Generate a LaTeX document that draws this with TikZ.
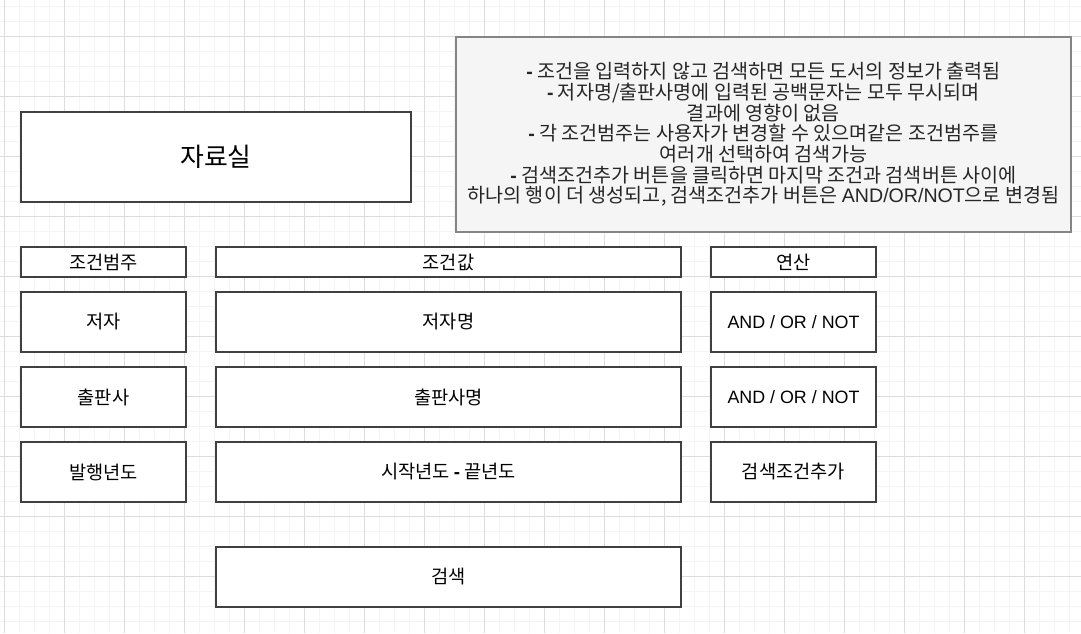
\documentclass[tikz,border=0pt]{standalone}
\usepackage{fontspec}
\setmainfont{Noto Sans CJK KR}
\newfontfamily\latinfont{Liberation Sans}
\definecolor{boxline}{HTML}{404040}
\definecolor{noteline}{HTML}{858585}
\definecolor{notefill}{HTML}{F5F5F5}
\definecolor{gridminor}{HTML}{F4F4F4}
\definecolor{gridmajor}{HTML}{DCDCDC}
\tikzset{
  box/.style={draw=boxline, line width=1.5pt, fill=white, inner sep=0pt, text=black,
    font=\fontsize{14}{16}\selectfont},
  colA/.style={minimum width=123.75pt},
  colB/.style={minimum width=348.75pt},
  headrow/.style={minimum height=22.5pt},
  bodyrow/.style={minimum height=45pt},
  optext/.style={font=\latinfont\fontsize{13.4}{15}\selectfont},
  notebox/.style={draw=noteline, line width=1.5pt, fill=notefill, inner sep=0pt,
    minimum width=461.25pt, minimum height=146.25pt, align=center, text=black!85,
    font=\fontsize{14.7}{15.5}\selectfont}
}
\begin{document}
\begin{tikzpicture}[x=0.75pt,y=-0.75pt]
\useasboundingbox (0,0) rectangle (1081,633);
\fill[white] (0,0) rectangle (1081,633);
% grid
\foreach \i in {0,...,71} \draw[gridminor, line width=0.75pt] (4+15*\i,0) -- (4+15*\i,633);
\foreach \j in {0,...,42} \draw[gridminor, line width=0.75pt] (0,6+15*\j) -- (1081,6+15*\j);
\foreach \i in {0,...,17} \draw[gridmajor, line width=0.75pt] (4+60*\i,0) -- (4+60*\i,633);
\foreach \j in {-1,...,10} \draw[gridmajor, line width=0.75pt] (0,36+60*\j) -- (1081,36+60*\j);

% title
\node[box, minimum width=292.5pt, minimum height=67.5pt, font=\fontsize{19.4}{21}\selectfont] (title) at (216,157) {자료실};

% note
\node[notebox] (note) at (763.5,134.5) {%
{\latinfont\bfseries -} 조건을 입력하지 않고 검색하면 모든 도서의 정보가 출력됨\\
{\latinfont\bfseries -} 저자명/출판사명에 입력된 공백문자는 모두 무시되며\\
결과에 영향이 없음\\
{\latinfont\bfseries -} 각 조건범주는 사용자가 변경할 수 있으며같은 조건범주를\\
여러개 선택하여 검색가능\\
{\latinfont\bfseries -} 검색조건추가 버튼을 클릭하면 마지막 조건과 검색버튼 사이에\\
하나의 행이 더 생성되고, 검색조건추가 버튼은 {\latinfont AND/OR/NOT}으로 변경됨};

% headers
\node[box, colA, headrow] (hcat) at (103.5,262) {조건범주};
\node[box, colB, headrow] (hval) at (448.5,262) {조건값};
\node[box, colA, headrow] (hop) at (793.5,262) {연산};

% row 1
\node[box, colA, bodyrow] (c1) at (103.5,322) {저자};
\node[box, colB, bodyrow] (v1) at (448.5,322) {저자명};
\node[box, colA, bodyrow, optext] (o1) at (793.5,322) {AND / OR / NOT};

% row 2
\node[box, colA, bodyrow] (c2) at (103.5,397) {출판사};
\node[box, colB, bodyrow] (v2) at (448.5,397) {출판사명};
\node[box, colA, bodyrow, optext] (o2) at (793.5,397) {AND / OR / NOT};

% row 3
\node[box, colA, bodyrow] (c3) at (103.5,472) {발행년도};
\node[box, colB, bodyrow] (v3) at (448.5,472) {시작년도 {\latinfont\bfseries -} 끝년도};
\node[box, colA, bodyrow] (o3) at (793.5,472) {검색조건추가};

% search
\node[box, colB, bodyrow] (search) at (448.5,577) {검색};
\end{tikzpicture}
\end{document}
